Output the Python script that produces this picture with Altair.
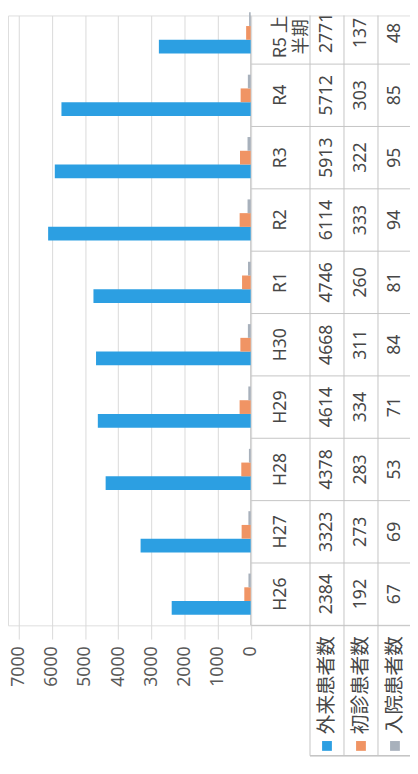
import altair as alt
import pandas as pd

# ---- data ----
categories = ["H26", "H27", "H28", "H29", "H30", "R1", "R2", "R3", "R4", "R5上半期"]
cat_labels = ["H26", "H27", "H28", "H29", "H30", "R1", "R2", "R3", "R4", "R5 上\n半期"]
series = ["外来患者数", "初診患者数", "入院患者数"]
outpatients = [2384, 3323, 4378, 4614, 4668, 4746, 6114, 5913, 5712, 2771]
first_visits = [192, 273, 283, 334, 311, 260, 333, 322, 303, 137]
inpatients = [67, 69, 53, 71, 84, 81, 94, 95, 85, 48]
axis_ticks = [0, 1000, 2000, 3000, 4000, 5000, 6000, 7000]
colors = ["#2c9fe2", "#f09464", "#a8b1bc"]

values_by_series = [outpatients, first_visits, inpatients]
rows = []
for s, vals in zip(series, values_by_series):
    for c, v in zip(categories, vals):
        rows.append({"cat": c, "series": s, "value": v})
df = pd.DataFrame(rows)
cat_df = pd.DataFrame({"cat": categories, "label": cat_labels})
ser_df = pd.DataFrame({"series": series})
tick_df = pd.DataFrame({"t": [0]})

NUM_FONT = "Noto Sans"
CJK_FONT = "Noto Sans CJK JP"
TXT = "#474747"
LINE = "#c4c4c4"
FS = 18

x_scale = alt.Scale(domain=[0, 7000], range=[247.5, 11], nice=False, zero=True)
y_scale = alt.Scale(domain=list(reversed(categories)), range=[-14, 622],
                    paddingInner=0, paddingOuter=0)
col_scale = alt.Scale(domain=series, range=[308, 412], paddingInner=0, paddingOuter=0)
color_scale = alt.Scale(domain=series, range=colors)

bars = alt.Chart(df).mark_bar().encode(
    x=alt.X("value:Q", scale=x_scale,
            axis=alt.Axis(values=axis_ticks, format="d", grid=True, gridColor="#d9d9d9",
                          domain=False, ticks=False, tickSize=0, labelAngle=270,
                          labelAlign="right", labelBaseline="middle",
                          labelPadding=21, labelFont=NUM_FONT, labelFontSize=FS,
                          labelColor="#5a5a5a", title=None, orient="bottom")),
    y=alt.Y("cat:N", scale=y_scale, axis=None),
    yOffset=alt.YOffset("series:N",
                        scale=alt.Scale(domain=[series[2], series[1], series[0]],
                                        paddingInner=0, paddingOuter=0.77)),
    color=alt.Color("series:N", scale=color_scale, legend=None),
)

baseline = alt.Chart(tick_df).mark_rule(color=LINE).encode(
    x=alt.X("t:Q", scale=x_scale, axis=None),
    y=alt.value(0), y2=alt.value(622),
)

row_rules = alt.Chart(cat_df).mark_rule(color=LINE).encode(
    y=alt.Y("cat:N", scale=y_scale, bandPosition=1, axis=None),
    x=alt.value(248), x2=alt.value(410),
)

col_rules = alt.Chart(ser_df).mark_rule(color=LINE).encode(
    x=alt.X("series:N", scale=col_scale, bandPosition=0, axis=None),
    y=alt.value(0), y2=alt.value(755),
)

header_bottom = alt.Chart(ser_df).mark_rule(color=LINE).encode(
    x=alt.value(308), x2=alt.value(410), y=alt.value(755),
)

nums = alt.Chart(df).mark_text(angle=270, align="center", baseline="middle",
                               font=NUM_FONT, fontSize=FS, color=TXT).encode(
    x=alt.X("series:N", scale=col_scale, axis=None),
    y=alt.Y("cat:N", scale=y_scale, axis=None),
    text=alt.Text("value:Q", format="d"),
)

cats_main = alt.Chart(cat_df).transform_filter(
    alt.datum.cat != categories[-1]
).mark_text(angle=270, align="center", baseline="middle",
            font=NUM_FONT, fontSize=FS, color=TXT).encode(
    x=alt.value(279),
    y=alt.Y("cat:N", scale=y_scale, axis=None),
    text="label:N",
)

cats_last = alt.Chart(cat_df).transform_filter(
    alt.datum.cat == categories[-1]
).mark_text(angle=270, align="center", baseline="middle", dx=-4,
            lineBreak="\n", lineHeight=21,
            font=CJK_FONT, fontSize=FS, color=TXT).encode(
    x=alt.value(279),
    y=alt.Y("cat:N", scale=y_scale, axis=None),
    text="label:N",
)

header_text = alt.Chart(ser_df).mark_text(angle=270, align="left", baseline="middle",
                                          font=CJK_FONT, fontSize=20, color=TXT).encode(
    x=alt.X("series:N", scale=col_scale, axis=None),
    y=alt.value(733),
    text="series:N",
)

keys = alt.Chart(ser_df).mark_square(size=100, opacity=1).encode(
    x=alt.X("series:N", scale=col_scale, axis=None),
    y=alt.value(745),
    color=alt.Color("series:N", scale=color_scale, legend=None),
)

chart = alt.layer(
    baseline, bars, row_rules, col_rules, header_bottom, nums,
    cats_main, cats_last, header_text, keys
).resolve_scale(x="independent").properties(
    width=410, height=622,
    padding={"left": 0, "top": 0, "right": 0, "bottom": 144},
    autosize=alt.AutoSizeParams(type="none"),
).configure_view(stroke=None).configure(background="white")

chart.save("out.html", embed_options={"renderer": "svg", "actions": False})
